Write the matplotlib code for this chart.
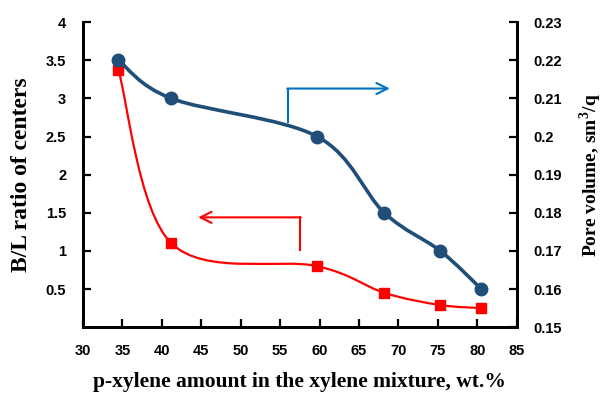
import numpy as np
import matplotlib
matplotlib.use("Agg")
import matplotlib.pyplot as plt
from matplotlib.path import Path
from matplotlib.patches import PathPatch

# data
xylene = [34.5, 41.2, 59.7, 68.2, 75.3, 80.5]
bl_ratio = [3.37, 1.10, 0.80, 0.45, 0.29, 0.25]
pore_vol = [0.220, 0.210, 0.200, 0.180, 0.170, 0.160]

x_ticks = [30, 35, 40, 45, 50, 55, 60, 65, 70, 75, 80, 85]
left_ticks = [0.5, 1, 1.5, 2, 2.5, 3, 3.5, 4]
right_ticks = [0.15, 0.16, 0.17, 0.18, 0.19, 0.20, 0.21, 0.22, 0.23]

BLUE = "#1F4E79"
RED = "#FF0000"
ARROW_BLUE = "#0070C0"
TICK_FONT = dict(family="Liberation Sans", weight="bold", size=10.5)
LABEL_FONT = "Liberation Serif"

plt.rcParams["mathtext.fontset"] = "custom"
plt.rcParams["mathtext.rm"] = "Liberation Serif:bold"


def smooth_path(x, y):
    """Excel-like smoothed line: cubic Bezier segments through every point."""
    x = np.asarray(x, float)
    y = np.asarray(y, float)
    n = len(x)
    verts = [(x[0], y[0])]
    codes = [Path.MOVETO]
    for i in range(n - 1):
        p0 = np.array([x[max(i - 1, 0)], y[max(i - 1, 0)]])
        p1 = np.array([x[i], y[i]])
        p2 = np.array([x[i + 1], y[i + 1]])
        p3 = np.array([x[min(i + 2, n - 1)], y[min(i + 2, n - 1)]])
        c1 = p1 + (p2 - p0) / 6.0
        c2 = p2 - (p3 - p1) / 6.0
        verts += [tuple(c1), tuple(c2), tuple(p2)]
        codes += [Path.CURVE4] * 3
    return Path(verts, codes)


fig = plt.figure(figsize=(6.08, 3.97), dpi=100)
ax = fig.add_axes([0.1365, 0.176, 0.7135, 0.768])
ax2 = ax.twinx()

# red: B/L ratio on the left axis
ax.add_patch(PathPatch(smooth_path(xylene, bl_ratio), fill=False,
                       edgecolor=RED, lw=1.6, zorder=3))
ax.plot(xylene, bl_ratio, ls="none", marker="s", ms=7.5, color=RED, zorder=4)

# blue: pore volume on the right axis
ax2.add_patch(PathPatch(smooth_path(xylene, pore_vol), fill=False,
                        edgecolor=BLUE, lw=2.6, zorder=3))
ax2.plot(xylene, pore_vol, ls="none", marker="o", ms=9, color=BLUE, zorder=4)

ax.set_xlim(30, 85)
ax.set_ylim(0, 4)
ax2.set_ylim(0.15, 0.23)

ax.set_xticks(x_ticks)
ax.set_xticklabels([str(v) for v in x_ticks], fontdict=TICK_FONT)
ax.set_yticks(left_ticks)
ax.set_yticklabels([f"{v:g}" for v in left_ticks], fontdict=TICK_FONT)
ax2.set_yticks(right_ticks)
ax2.set_yticklabels([f"{v:g}" for v in right_ticks], fontdict=TICK_FONT)

for a in (ax, ax2):
    a.spines["top"].set_visible(False)
    for s in ("left", "right", "bottom"):
        a.spines[s].set_linewidth(2)
    a.tick_params(direction="in", length=6, width=1.6)
ax.tick_params(axis="x", pad=12)
ax.tick_params(axis="y", pad=12)
ax2.tick_params(axis="y", pad=12)

ax.set_xlabel("p-xylene amount in the xylene mixture, wt.%", fontsize=15.5,
              fontfamily=LABEL_FONT, fontweight="bold", labelpad=10)
ax.set_ylabel("B/L ratio of centers", fontsize=17, fontfamily=LABEL_FONT,
              fontweight="bold", labelpad=10)
ax2.set_ylabel("Pore volume, sm$^3$/q", fontsize=14, fontfamily=LABEL_FONT,
               fontweight="bold", labelpad=11)

# arrows pointing to their axes
ax.plot([56.0, 56.0], [2.69, 3.13], color=ARROW_BLUE, lw=1.5, zorder=2)
ax.annotate("", xy=(68.9, 3.13), xytext=(55.9, 3.13),
            arrowprops=dict(arrowstyle="->", color=ARROW_BLUE, lw=1.5,
                            mutation_scale=20, shrinkA=0, shrinkB=0))
ax.plot([57.5, 57.5], [1.01, 1.44], color=RED, lw=1.5, zorder=2)
ax.annotate("", xy=(44.6, 1.44), xytext=(57.6, 1.44),
            arrowprops=dict(arrowstyle="->", color=RED, lw=1.5,
                            mutation_scale=20, shrinkA=0, shrinkB=0))

fig.savefig("out.png", dpi=100)
